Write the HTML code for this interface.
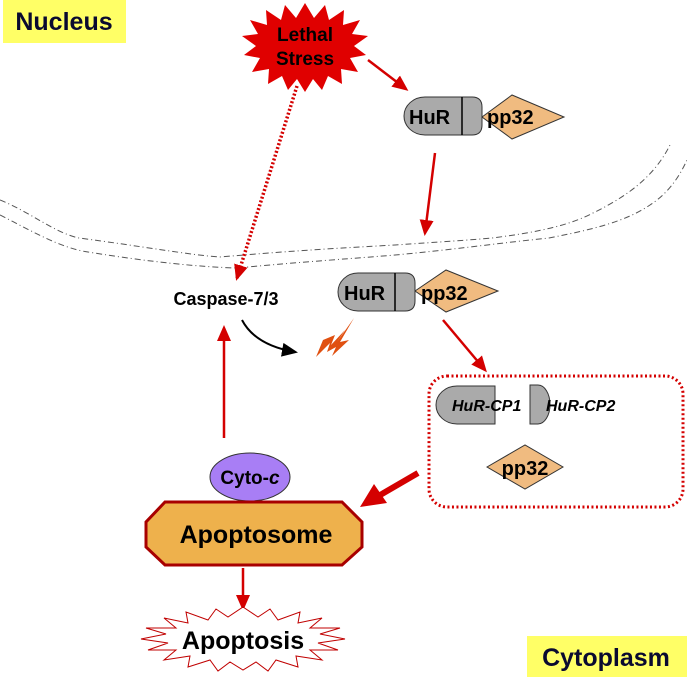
<!DOCTYPE html>
<html><head><meta charset="utf-8"><style>
html,body{margin:0;padding:0;background:#fff;width:687px;height:677px;overflow:hidden}
svg{display:block;font-family:"Liberation Sans",Arial,sans-serif;font-weight:bold}
</style></head><body>
<svg width="687" height="677" viewBox="0 0 687 677" xmlns="http://www.w3.org/2000/svg">
<defs>
<marker id="ar" markerWidth="16" markerHeight="16" refX="13" refY="7" orient="auto" markerUnits="userSpaceOnUse" viewBox="0 0 16 14">
<path d="M0,0 L16,7 L0,14 z" fill="#d40000"/></marker>
<marker id="arb" markerWidth="16" markerHeight="16" refX="13" refY="7" orient="auto" markerUnits="userSpaceOnUse" viewBox="0 0 16 14">
<path d="M0,0 L16,7 L0,14 z" fill="#000"/></marker>
</defs>
<rect x="3" y="0" width="123" height="43" fill="#ffff66"/>
<text x="64" y="30" font-size="25" text-anchor="middle" fill="#0a0a30">Nucleus</text>
<rect x="527" y="636" width="160" height="41" fill="#ffff66"/>
<text x="606" y="666" font-size="25" text-anchor="middle" fill="#0a0a30">Cytoplasm</text>

<path d="M0,200 C30,212 55,233 79,238 C140,246 190,255 220,257 C300,250 360,247 395,245 C440,242 470,240 492,238 C540,232 570,225 593,213 C630,195 655,175 670,145" fill="none" stroke="#555" stroke-width="1" stroke-dasharray="6,3,1,3"/>
<path d="M0,215 C30,230 60,248 88,252 C150,262 200,267 237,268 C300,262 360,258 395,255 C450,250 500,243 549,238 C590,230 625,222 650,205 C670,192 680,175 687,160" fill="none" stroke="#555" stroke-width="1" stroke-dasharray="6,3,1,3"/>

<polygon fill="#e00000" points="305,3 314,18 325,5 329,20 344,10 343,25 360,20 352,34 368,36 354,46 366,55 350,58 358,72 341,69 342,84 328,76 322,90 313,79 305,92 297,79 288,90 282,76 268,84 269,69 252,72 260,58 244,55 256,46 242,36 258,34 250,20 267,25 266,10 281,20 285,5 296,18"/>
<text x="305" y="41" font-size="19" text-anchor="middle">Lethal</text>
<text x="305" y="65" font-size="19" text-anchor="middle">Stress</text>

<line x1="368" y1="60" x2="406" y2="89" stroke="#d40000" stroke-width="2.5" marker-end="url(#ar)"/>
<line x1="297" y1="86" x2="237" y2="278" stroke="#d40000" stroke-width="3.5" stroke-dasharray="2,2" marker-end="url(#ar)"/>
<line x1="435" y1="153" x2="425" y2="233" stroke="#d40000" stroke-width="2.5" marker-end="url(#ar)"/>

<polygon points="482,117 512,95 564,117 512,139" fill="#f0bb80" stroke="#333" stroke-width="1"/>
<path d="M425,97 L472,97 Q482,97 482,107 L482,125 Q482,135 472,135 L425,135 A21,19 0 0 1 425,97 z" fill="#aaa" stroke="#333" stroke-width="1"/>
<line x1="462" y1="97" x2="462" y2="135" stroke="#000" stroke-width="1.5"/>
<text x="409" y="124" font-size="20">HuR</text>
<text x="487" y="124" font-size="20">pp32</text>

<text x="226" y="305" font-size="18" text-anchor="middle">Caspase-7/3</text>

<polygon points="415,291 446,270 498,291 446,312" fill="#f0bb80" stroke="#333" stroke-width="1"/>
<path d="M358,273 L405,273 Q415,273 415,283 L415,301 Q415,311 405,311 L358,311 A20,19 0 0 1 358,273 z" fill="#aaa" stroke="#333" stroke-width="1"/>
<line x1="395" y1="273" x2="395" y2="311" stroke="#000" stroke-width="1.5"/>
<text x="344" y="300" font-size="20">HuR</text>
<text x="421" y="300" font-size="20">pp32</text>

<path d="M242,320 Q255,345 295,352" fill="none" stroke="#000" stroke-width="2" marker-end="url(#arb)"/>
<polygon points="323,340 335,335 331,345 345,330 337,342 354,318 340,342 349,340 332,356 336,347 327,352 330,343 316,357" fill="#e05010"/>

<line x1="443" y1="320" x2="485" y2="370" stroke="#d40000" stroke-width="2.5" marker-end="url(#ar)"/>

<rect x="429" y="376" width="254" height="131" rx="18" fill="none" stroke="#d40000" stroke-width="3" stroke-dasharray="2,2.5"/>
<path d="M457,386 L495,386 L495,424 L457,424 A21,19 0 0 1 457,386 z" fill="#aaa" stroke="#333" stroke-width="1"/>
<path d="M530,385 L538,385 A12,19.5 0 0 1 538,424 L530,424 z" fill="#aaa" stroke="#333" stroke-width="1"/>
<text x="452" y="411" font-size="16" font-style="italic">HuR-CP1</text>
<text x="546" y="411" font-size="16" font-style="italic">HuR-CP2</text>
<polygon points="487,467 525,445 563,467 525,489" fill="#f0bb80" stroke="#333" stroke-width="1"/>
<text x="525" y="475" font-size="20" text-anchor="middle">pp32</text>

<line x1="418" y1="473" x2="375" y2="498" stroke="#d40000" stroke-width="6"/>
<polygon points="360,507 374,484 387,503" fill="#d40000"/>

<line x1="224" y1="438" x2="224" y2="328" stroke="#d40000" stroke-width="2.5" marker-end="url(#ar)"/>

<ellipse cx="250" cy="477" rx="40" ry="24" fill="#a87ef5" stroke="#333" stroke-width="1"/>
<text x="250" y="484" font-size="19" text-anchor="middle">Cyto-<tspan font-style="italic">c</tspan></text>
<polygon points="165,502 342,502 362,522 362,547 342,565 165,565 146,547 146,522" fill="#eeb14c" stroke="#a80000" stroke-width="3"/>
<text x="256" y="543" font-size="25" text-anchor="middle">Apoptosome</text>

<line x1="243" y1="568" x2="243" y2="608" stroke="#d40000" stroke-width="2.5" marker-end="url(#ar)"/>

<polygon fill="#fff" stroke="#c00000" stroke-width="1" points="243,607 258,617 270,609 278,620 300,612 298,623 322,618 310,628 340,628 320,634 345,639 318,643 338,650 310,650 322,660 296,656 298,667 276,660 268,671 256,662 243,670 230,662 218,671 210,660 188,667 190,656 164,660 176,650 148,650 168,643 141,639 166,634 146,628 176,628 164,618 188,623 186,612 208,620 216,609 228,617"/>
<text x="243" y="649" font-size="25" text-anchor="middle">Apoptosis</text>
</svg>
</body></html>
